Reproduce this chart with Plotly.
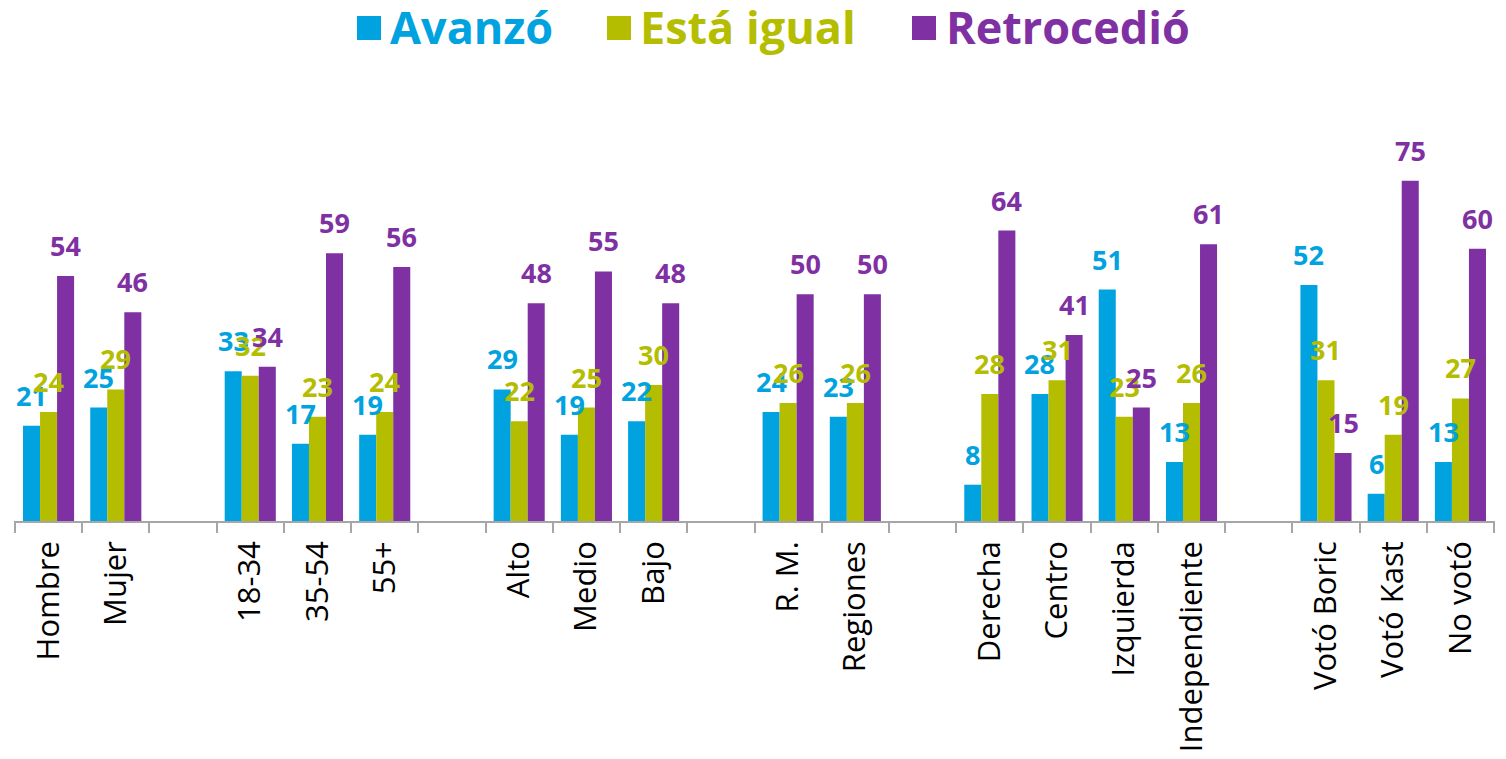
import plotly.graph_objects as go

categories = ["Hombre", "Mujer", " ", "18-34", "35-54", "55+", "  ", "Alto", "Medio", "Bajo", "   ",
              "R. M.", "Regiones", "    ", "Derecha", "Centro", "Izquierda", "Independiente", "     ",
              "Votó Boric", "Votó Kast", "No votó"]
avanzo = [21, 25, None, 33, 17, 19, None, 29, 19, 22, None, 24, 23, None, 8, 28, 51, 13, None, 52, 6, 13]
igual = [24, 29, None, 32, 23, 24, None, 22, 25, 30, None, 26, 26, None, 28, 31, 23, 26, None, 31, 19, 27]
retrocedio = [54, 46, None, 34, 59, 56, None, 48, 55, 48, None, 50, 50, None, 64, 41, 25, 61, None, 15, 75, 60]

series_names = ["Avanzó", "Está igual", "Retrocedió"]
series_values = [avanzo, igual, retrocedio]
colors = ["#00A3E0", "#B5BD00", "#7F30A3"]

# page body has an 8px margin, so the figure is sized to fit inside the window
OFF = 8
W, H = 1490, 743
ML, MR, MT, MB = 6, 3, 150, 230
YMAX = 80
BARGAP = 0.24
FONT = "Open Sans"

plot_w = W - ML - MR
plot_h = H - MT - MB
slot = plot_w / len(categories)
bar_w = slot * (1 - BARGAP) / 3


def px_to_paper(rx, ry):
    return (rx - OFF - ML) / plot_w, (H - MB - (ry - OFF)) / plot_h


fig = go.Figure()
for name, vals, col in zip(series_names, series_values, colors):
    fig.add_trace(go.Bar(x=categories, y=vals, name=name, marker=dict(color=col, line=dict(width=0)),
                         showlegend=False))

annotations = []
for k, (vals, col) in enumerate(zip(series_values, colors)):
    for c, v in zip(categories, vals):
        if v is None:
            continue
        annotations.append(dict(x=c, y=v, xref="x", yref="y", text=str(v), showarrow=False,
                                xshift=(k - 1) * bar_w, yshift=10, yanchor="bottom",
                                font=dict(family=FONT, size=27, color=col, weight="bold")))

# legend built from the series names and colours
shapes = []
legend_sq_x = [357, 607, 912]
legend_txt_x = [388, 638, 944]
for name, col, sx, tx in zip(series_names, colors, legend_sq_x, legend_txt_x):
    x0, y0 = px_to_paper(sx, 40)
    x1, y1 = px_to_paper(sx + 24, 16)
    shapes.append(dict(type="rect", xref="paper", yref="paper", x0=x0, x1=x1, y0=y0, y1=y1,
                       fillcolor=col, line=dict(width=0)))
    ax, ay = px_to_paper(tx, 26)
    annotations.append(dict(x=ax, y=ay, xref="paper", yref="paper", xanchor="left", yanchor="middle",
                            showarrow=False, text=name,
                            font=dict(family=FONT, size=45, color=col, weight="bold")))

fig.update_layout(
    width=W, height=H,
    margin=dict(l=ML, r=MR, t=MT, b=MB, autoexpand=False),
    plot_bgcolor="white", paper_bgcolor="white",
    barmode="group", bargap=BARGAP, bargroupgap=0,
    annotations=annotations, shapes=shapes,
    xaxis=dict(type="category", categoryorder="array", categoryarray=categories,
               automargin=False,
               tickson="boundaries", ticks="outside", ticklen=10, tickcolor="#A6A6A6", tickwidth=1.5,
               showline=True, linecolor="#A6A6A6", linewidth=1.5, showgrid=False,
               ticklabelstandoff=6,
               tickangle=-90, tickfont=dict(family=FONT, size=31, color="#000000")),
    yaxis=dict(range=[0, YMAX], visible=False, showgrid=False, zeroline=False, automargin=False),
)

fig.write_html("out.html")
